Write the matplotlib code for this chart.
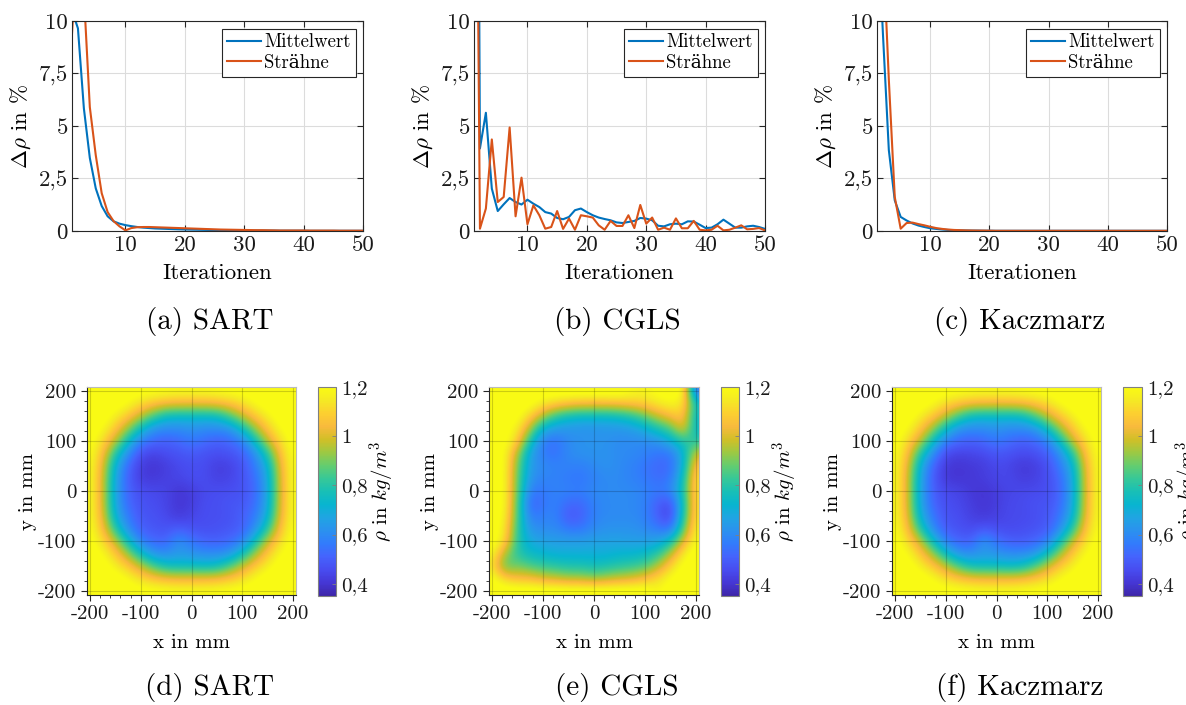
import numpy as np
import matplotlib
matplotlib.use("Agg")
import matplotlib.pyplot as plt
from matplotlib.colors import LinearSegmentedColormap
from matplotlib.ticker import MultipleLocator

plt.rcParams['font.family'] = ['cmr10', 'DejaVu Serif']
plt.rcParams['mathtext.fontset'] = 'cm'
plt.rcParams['axes.unicode_minus'] = False
plt.rcParams['axes.formatter.use_mathtext'] = True

# ---------------- data: convergence curves ----------------
iterations = np.arange(1, 51)

sart_mean = [10.5, 9.65, 5.84, 3.48, 2.03, 1.19, 0.70, 0.46, 0.35, 0.28,
             0.23, 0.19, 0.16, 0.14, 0.12, 0.11, 0.10, 0.09, 0.08, 0.07,
             0.065, 0.06, 0.055, 0.05, 0.045, 0.04, 0.035, 0.03, 0.03, 0.025,
             0.02, 0.02, 0.02, 0.02, 0.02, 0.015, 0.015, 0.015, 0.015, 0.015,
             0.01, 0.01, 0.01, 0.01, 0.01, 0.01, 0.01, 0.01, 0.01, 0.01]
sart_strand = [9.4, 14.0, 11.3, 5.9, 3.61, 1.8, 0.9, 0.47, 0.22, 0.03,
               0.14, 0.18, 0.19, 0.19, 0.18, 0.17, 0.16, 0.15, 0.14, 0.13,
               0.12, 0.11, 0.10, 0.09, 0.08, 0.07, 0.065, 0.06, 0.055, 0.05,
               0.045, 0.04, 0.04, 0.035, 0.03, 0.025, 0.025, 0.025, 0.025, 0.025,
               0.02, 0.02, 0.02, 0.02, 0.02, 0.015, 0.015, 0.015, 0.015, 0.015]

cgls_mean = [60.0, 3.93, 5.63, 2.02, 0.95, 1.27, 1.57, 1.38, 1.26, 1.49,
             1.30, 1.14, 0.90, 0.83, 0.62, 0.56, 0.67, 0.99, 1.07, 0.90,
             0.75, 0.64, 0.57, 0.51, 0.41, 0.38, 0.43, 0.48, 0.62, 0.59,
             0.51, 0.25, 0.22, 0.32, 0.35, 0.32, 0.46, 0.45, 0.30, 0.14,
             0.16, 0.32, 0.54, 0.35, 0.16, 0.16, 0.22, 0.25, 0.19, 0.10]
cgls_strand = [35.0, 0.11, 1.07, 4.36, 1.38, 1.62, 4.93, 0.70, 2.54, 0.32,
               1.22, 0.75, 0.11, 0.19, 0.95, 0.10, 0.59, 0.06, 0.75, 0.70,
               0.64, 0.27, 0.06, 0.48, 0.24, 0.24, 0.75, 0.14, 1.24, 0.35,
               0.64, 0.06, 0.16, 0.06, 0.60, 0.13, 0.13, 0.48, 0.06, 0.03,
               0.06, 0.25, 0.03, 0.06, 0.16, 0.27, 0.08, 0.10, 0.14, 0.03]

kacz_mean = [15.4, 9.4, 3.85, 1.46, 0.67, 0.50, 0.36, 0.26, 0.19, 0.13,
             0.10, 0.07, 0.05, 0.04, 0.03, 0.025, 0.02, 0.02, 0.015, 0.015,
             0.01, 0.01, 0.01, 0.01, 0.01, 0.01, 0.01, 0.01, 0.01, 0.01,
             0.01, 0.01, 0.01, 0.01, 0.01, 0.01, 0.01, 0.01, 0.01, 0.01,
             0.01, 0.01, 0.01, 0.01, 0.01, 0.01, 0.01, 0.01, 0.01, 0.01]
kacz_strand = [20.0, 13.7, 7.2, 1.62, 0.11, 0.38, 0.40, 0.33, 0.27, 0.20,
               0.14, 0.10, 0.07, 0.05, 0.04, 0.03, 0.025, 0.02, 0.02, 0.015,
               0.01, 0.01, 0.01, 0.01, 0.01, 0.01, 0.01, 0.01, 0.01, 0.01,
               0.01, 0.01, 0.01, 0.01, 0.01, 0.01, 0.01, 0.01, 0.01, 0.01,
               0.01, 0.01, 0.01, 0.01, 0.01, 0.01, 0.01, 0.01, 0.01, 0.01]

series_labels = ['Mittelwert', 'Strähne']
y_ticks = [0, 2.5, 5, 7.5, 10]
y_ticklabels = ['0', '2,5', '5', '7,5', '10']
x_ticks = [10, 20, 30, 40, 50]

# ---------------- data: density fields (rows y=200..-200, cols x=-200..200, step 25 mm) ----------------
grid_mm = np.arange(-200, 201, 25)

sart_rho = [
 [1.30,1.29,1.27,1.25,1.23,1.22,1.21,1.20,1.20,1.20,1.21,1.22,1.23,1.25,1.27,1.29,1.30],
 [1.29,1.27,1.24,1.19,1.12,1.07,1.04,1.03,1.03,1.03,1.04,1.07,1.12,1.19,1.24,1.27,1.29],
 [1.27,1.24,1.16,1.08,0.97,0.85,0.75,0.74,0.74,0.74,0.75,0.85,0.97,1.08,1.16,1.24,1.27],
 [1.25,1.19,1.08,0.93,0.75,0.62,0.60,0.60,0.62,0.60,0.60,0.62,0.75,0.93,1.08,1.19,1.25],
 [1.23,1.12,0.97,0.75,0.57,0.52,0.50,0.52,0.56,0.53,0.50,0.52,0.57,0.75,0.97,1.12,1.23],
 [1.21,1.06,0.80,0.60,0.46,0.43,0.46,0.47,0.49,0.47,0.46,0.47,0.50,0.60,0.80,1.06,1.21],
 [1.20,1.02,0.70,0.52,0.42,0.40,0.42,0.45,0.46,0.46,0.42,0.43,0.47,0.56,0.70,1.02,1.20],
 [1.20,1.00,0.67,0.50,0.42,0.41,0.43,0.44,0.46,0.46,0.43,0.44,0.47,0.53,0.67,1.00,1.20],
 [1.20,1.00,0.66,0.51,0.46,0.45,0.44,0.40,0.42,0.45,0.46,0.46,0.47,0.52,0.66,1.00,1.20],
 [1.20,1.00,0.67,0.52,0.47,0.46,0.44,0.40,0.42,0.46,0.46,0.48,0.48,0.53,0.67,1.00,1.20],
 [1.20,1.02,0.70,0.56,0.48,0.47,0.45,0.41,0.44,0.46,0.46,0.47,0.50,0.56,0.70,1.02,1.20],
 [1.21,1.06,0.80,0.60,0.50,0.48,0.47,0.50,0.47,0.46,0.47,0.48,0.50,0.60,0.80,1.06,1.21],
 [1.23,1.12,0.97,0.75,0.57,0.52,0.51,0.62,0.55,0.51,0.50,0.52,0.57,0.75,0.97,1.12,1.23],
 [1.25,1.19,1.08,0.93,0.75,0.62,0.60,0.64,0.62,0.60,0.60,0.62,0.75,0.93,1.08,1.19,1.25],
 [1.27,1.24,1.16,1.08,0.97,0.85,0.76,0.75,0.75,0.74,0.75,0.85,0.97,1.08,1.16,1.24,1.27],
 [1.29,1.27,1.24,1.19,1.12,1.07,1.04,1.03,1.03,1.03,1.04,1.07,1.12,1.19,1.24,1.27,1.29],
 [1.30,1.29,1.27,1.25,1.23,1.22,1.21,1.20,1.20,1.20,1.21,1.22,1.23,1.25,1.27,1.29,1.30],
]

cgls_rho = [
 [1.25,1.25,1.25,1.25,1.25,1.25,1.25,1.25,1.25,1.25,1.25,1.20,1.18,1.22,1.25,1.22,0.50],
 [1.25,1.25,1.25,1.22,1.15,1.10,1.07,1.05,1.05,1.05,1.06,1.08,1.10,1.15,1.18,1.15,0.75],
 [1.25,1.25,1.22,1.10,0.95,0.82,0.76,0.74,0.74,0.74,0.76,0.80,0.88,0.98,1.05,1.10,0.72],
 [1.25,1.23,1.16,0.95,0.70,0.64,0.63,0.62,0.62,0.63,0.63,0.65,0.70,0.78,0.85,1.05,0.72],
 [1.25,1.22,1.10,0.78,0.56,0.54,0.60,0.62,0.62,0.62,0.60,0.60,0.60,0.62,0.70,0.80,0.80],
 [1.25,1.20,0.95,0.66,0.56,0.54,0.60,0.62,0.62,0.62,0.60,0.60,0.58,0.55,0.55,0.70,1.00],
 [1.25,1.20,0.90,0.64,0.60,0.58,0.58,0.57,0.60,0.62,0.60,0.58,0.55,0.52,0.52,0.70,1.10],
 [1.25,1.20,0.88,0.62,0.58,0.58,0.56,0.55,0.58,0.60,0.60,0.58,0.56,0.53,0.55,0.75,1.15],
 [1.25,1.20,0.88,0.56,0.56,0.58,0.58,0.57,0.60,0.60,0.60,0.60,0.58,0.56,0.58,0.78,1.15],
 [1.25,1.20,0.86,0.50,0.55,0.58,0.52,0.52,0.58,0.60,0.60,0.60,0.58,0.50,0.45,0.75,1.15],
 [1.25,1.18,0.85,0.55,0.58,0.58,0.48,0.50,0.58,0.60,0.60,0.60,0.58,0.50,0.42,0.78,1.15],
 [1.25,1.15,0.82,0.62,0.60,0.60,0.55,0.55,0.60,0.62,0.62,0.62,0.60,0.56,0.52,0.85,1.18],
 [1.25,1.12,0.80,0.68,0.66,0.65,0.65,0.65,0.66,0.66,0.66,0.65,0.65,0.66,0.75,1.00,1.20],
 [1.20,0.95,0.80,0.74,0.72,0.70,0.70,0.70,0.70,0.70,0.72,0.72,0.74,0.80,0.95,1.15,1.25],
 [1.15,0.85,0.90,0.85,0.82,0.80,0.78,0.78,0.76,0.78,0.80,0.82,0.85,0.95,1.10,1.22,1.25],
 [1.22,1.10,1.05,1.05,1.00,0.98,0.95,0.95,0.92,0.95,0.98,1.00,1.05,1.12,1.20,1.25,1.25],
 [1.25,1.25,1.25,1.25,1.25,1.25,1.25,1.25,1.25,1.25,1.25,1.25,1.25,1.18,1.25,1.25,1.25],
]

kacz_rho = [
 [1.30,1.29,1.27,1.25,1.23,1.22,1.21,1.20,1.20,1.20,1.21,1.22,1.23,1.25,1.27,1.29,1.30],
 [1.29,1.27,1.24,1.19,1.12,1.07,1.04,1.03,1.03,1.03,1.04,1.07,1.12,1.19,1.24,1.27,1.29],
 [1.27,1.24,1.16,1.08,0.97,0.85,0.75,0.74,0.74,0.74,0.75,0.85,0.97,1.08,1.16,1.24,1.27],
 [1.25,1.19,1.08,0.93,0.75,0.62,0.60,0.60,0.62,0.60,0.60,0.62,0.75,0.93,1.08,1.19,1.25],
 [1.23,1.12,0.97,0.75,0.57,0.52,0.50,0.52,0.56,0.53,0.50,0.52,0.57,0.75,0.97,1.12,1.23],
 [1.21,1.06,0.80,0.60,0.45,0.43,0.44,0.45,0.48,0.47,0.45,0.46,0.50,0.60,0.80,1.06,1.21],
 [1.20,1.02,0.70,0.51,0.41,0.40,0.41,0.42,0.45,0.44,0.41,0.42,0.46,0.56,0.70,1.02,1.20],
 [1.20,1.00,0.67,0.49,0.41,0.40,0.41,0.42,0.44,0.45,0.42,0.43,0.46,0.52,0.67,1.00,1.20],
 [1.20,1.00,0.66,0.50,0.45,0.44,0.41,0.40,0.42,0.44,0.45,0.45,0.46,0.51,0.66,1.00,1.20],
 [1.20,1.00,0.67,0.51,0.46,0.45,0.42,0.40,0.42,0.45,0.45,0.47,0.47,0.52,0.67,1.00,1.20],
 [1.20,1.02,0.70,0.55,0.47,0.46,0.43,0.41,0.43,0.45,0.45,0.46,0.48,0.55,0.70,1.02,1.20],
 [1.21,1.06,0.80,0.59,0.49,0.47,0.45,0.48,0.46,0.45,0.46,0.47,0.49,0.59,0.80,1.06,1.21],
 [1.23,1.12,0.97,0.75,0.56,0.51,0.50,0.63,0.54,0.50,0.49,0.51,0.56,0.75,0.97,1.12,1.23],
 [1.25,1.19,1.08,0.93,0.75,0.62,0.60,0.64,0.62,0.60,0.60,0.62,0.75,0.93,1.08,1.19,1.25],
 [1.27,1.24,1.16,1.08,0.97,0.85,0.76,0.75,0.75,0.74,0.75,0.85,0.97,1.08,1.16,1.24,1.27],
 [1.29,1.27,1.24,1.19,1.12,1.07,1.04,1.03,1.03,1.03,1.04,1.07,1.12,1.19,1.24,1.27,1.29],
 [1.30,1.29,1.27,1.25,1.23,1.22,1.21,1.20,1.20,1.20,1.21,1.22,1.23,1.25,1.27,1.29,1.30],
]

img_ticks = [-200, -100, 0, 100, 200]
img_ticklabels = ['-200', '-100', '0', '100', '200']
cb_ticks = [0.4, 0.6, 0.8, 1.0, 1.2]
cb_ticklabels = ['0,4', '0,6', '0,8', '1', '1,2']
top_captions = ['(a) SART', '(b) CGLS', '(c) Kaczmarz']
bottom_captions = ['(d) SART', '(e) CGLS', '(f) Kaczmarz']

# ---------------- style ----------------
parula_anchors = [
    (0.2422, 0.1504, 0.6603), (0.2706, 0.2147, 0.8364), (0.2813, 0.3006, 0.9414),
    (0.2699, 0.3892, 0.9906), (0.1963, 0.4847, 0.9892), (0.1687, 0.5703, 0.9359),
    (0.1248, 0.6459, 0.8883), (0.0297, 0.7082, 0.8163), (0.0964, 0.7500, 0.7120),
    (0.2161, 0.7843, 0.5923), (0.3909, 0.8029, 0.4354), (0.6174, 0.7876, 0.2612),
    (0.8203, 0.7498, 0.1535), (0.9728, 0.7298, 0.2394), (0.9892, 0.8136, 0.1885),
    (0.9597, 0.9135, 0.1423), (0.9769, 0.9839, 0.0805)]
parula = LinearSegmentedColormap.from_list('parula', parula_anchors, N=256)

C_BLUE = '#0072BD'
C_ORANGE = '#D95319'
AX_COL = '#262626'
FS_TOP = 16.5
FS_BOT = 15
CAP_FS = 21

W, H = 1186, 705
fig = plt.figure(figsize=(W / 100, H / 100), dpi=100)

def frac(x0, y0, x1, y1):
    return [x0 / W, 1 - y1 / H, (x1 - x0) / W, (y1 - y0) / H]

line_boxes = [(72, 21, 363, 231), (474, 21, 765, 231), (877, 21, 1167, 231)]
line_data = [(sart_mean, sart_strand), (cgls_mean, cgls_strand), (kacz_mean, kacz_strand)]
caption_x = [210, 617, 1020]

for box, (m, s), cap, cx in zip(line_boxes, line_data, top_captions, caption_x):
    ax = fig.add_axes(frac(*box))
    ax.plot(iterations, m, color=C_BLUE, lw=1.5, label=series_labels[0])
    ax.plot(iterations, s, color=C_ORANGE, lw=1.5, label=series_labels[1])
    ax.set_xlim(1, 50)
    ax.set_ylim(0, 10)
    ax.set_xticks(x_ticks)
    ax.set_xticklabels([str(t) for t in x_ticks])
    ax.set_yticks(y_ticks)
    ax.set_yticklabels(y_ticklabels)
    ax.grid(True, color='#dcdcdc', lw=0.8)
    ax.set_axisbelow(True)
    ax.tick_params(direction='in', top=True, right=True, length=4, width=0.8,
                   color=AX_COL, labelsize=FS_TOP, labelcolor='#1a1a1a', pad=3)
    for sp in ax.spines.values():
        sp.set_color(AX_COL)
        sp.set_linewidth(0.8)
    ax.set_xlabel('Iterationen', fontsize=FS_TOP, labelpad=6)
    ax.set_ylabel(r'$\Delta\rho$ in %', fontsize=FS_TOP, labelpad=4)
    leg = ax.legend(loc='upper right', fontsize=13.5, frameon=True, fancybox=False,
                    edgecolor=AX_COL, framealpha=1, borderpad=0.25, labelspacing=0.15,
                    handlelength=1.8, handletextpad=0.2, borderaxespad=0.4)
    leg.get_frame().set_linewidth(0.8)
    fig.text(cx / W, 1 - 322 / H, cap, ha='center', va='center', fontsize=CAP_FS)

img_boxes = [(87, 387, 296, 595), (489, 387, 699, 595), (892, 387, 1101, 595)]
cb_boxes = [(318, 387, 336, 596), (721, 387, 739, 596), (1123, 387, 1142, 596)]
img_data = [sart_rho, cgls_rho, kacz_rho]
half = 12.5
for box, cbox, data, cap, cx in zip(img_boxes, cb_boxes, img_data, bottom_captions, caption_x):
    ax = fig.add_axes(frac(*box))
    im = ax.imshow(np.array(data), extent=(grid_mm[0] - half, grid_mm[-1] + half,
                                           grid_mm[0] - half, grid_mm[-1] + half),
                   origin='upper', cmap=parula, vmin=0.35, vmax=1.2,
                   interpolation='bicubic', aspect='auto')
    ax.set_xlim(-206, 206)
    ax.set_ylim(-208, 208)
    ax.set_xticks(img_ticks)
    ax.set_xticklabels(img_ticklabels)
    ax.set_yticks(img_ticks)
    ax.set_yticklabels(img_ticklabels)
    ax.xaxis.set_minor_locator(MultipleLocator(20))
    ax.yaxis.set_minor_locator(MultipleLocator(20))
    ax.grid(True, color='k', alpha=0.18, lw=0.8)
    ax.tick_params(which='major', direction='out', length=4, width=0.8, color=AX_COL,
                   labelsize=FS_BOT, labelcolor='#1a1a1a', pad=3.5)
    ax.tick_params(which='minor', direction='out', length=2.5, width=0.6, color=AX_COL)
    for name, sp in ax.spines.items():
        sp.set_linewidth(0.8)
        sp.set_color(AX_COL if name in ('left', 'bottom') else '#bbbbbb')
    ax.set_xlabel('x in mm', fontsize=FS_BOT, labelpad=8)
    ax.set_ylabel('y in mm', fontsize=FS_BOT, labelpad=1)
    cax = fig.add_axes(frac(*cbox))
    cb = fig.colorbar(im, cax=cax)
    cb.set_ticks(cb_ticks)
    cb.set_ticklabels(cb_ticklabels)
    cb.outline.set_edgecolor('#808080')
    cb.outline.set_linewidth(0.8)
    cax.tick_params(direction='in', length=3, width=0.6, color='#808080',
                    labelsize=FS_BOT, labelcolor='#1a1a1a', pad=4)
    cb.set_label(r'$\rho$ in $kg/m^3$', fontsize=FS_BOT, labelpad=0)
    fig.text(cx / W, 1 - 688 / H, cap, ha='center', va='center', fontsize=CAP_FS)

fig.savefig('out.png', dpi=100)
